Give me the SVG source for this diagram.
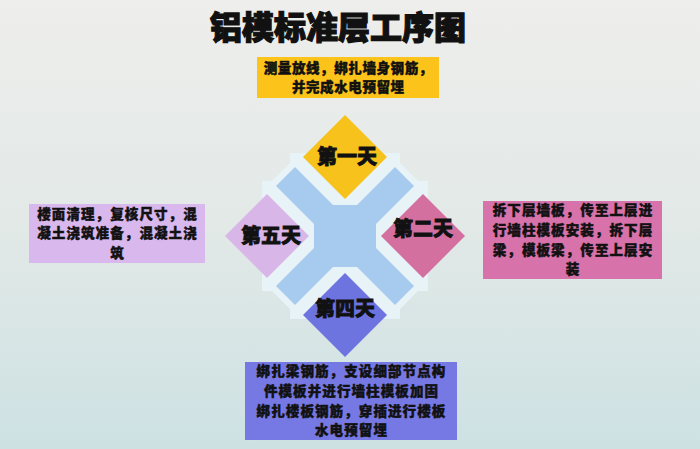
<svg xmlns="http://www.w3.org/2000/svg" width="700" height="449" viewBox="0 0 700 449">
  <defs>
    <linearGradient id="bg" x1="0" y1="0" x2="0" y2="1">
      <stop offset="0" stop-color="#eeeeec"/>
      <stop offset="0.5" stop-color="#e2e9e7"/>
      <stop offset="1" stop-color="#cde1e3"/>
    </linearGradient>
  </defs>
  <style>
    .t { font-family: "Noto Sans CJK SC", "Noto Sans CJK JP", sans-serif; font-weight: 900; fill: #111; stroke: #111; text-anchor: middle; }
    .title { font-size: 32px; stroke-width: 1.2px; }
    .day { font-size: 20px; stroke-width: 0.8px; }
    .box { font-size: 13.5px; letter-spacing: 1.1px; stroke-width: 0.45px; }
    .box14 { font-size: 13.5px; letter-spacing: 0.6px; stroke-width: 0.45px; }
  </style>
  <rect x="0" y="0" width="700" height="449" fill="url(#bg)"/>

  <g id="title">
    <text class="t title" x="338" y="39">铝模标准层工序图</text>
  </g>

  <g id="cross">
    <polygon fill="#e8f3f7" points="290,153 400,153 400,163 418,181 428,181 428,291 418,291 400,309 400,319 290,319 290,309 272,291 262,291 262,181 272,181 290,163"/>
    <polygon fill="#a7cbef" points="276,186 295,167 333,205 357,205 395,167 414,186 376,224 376,248 414,286 395,305 357,267 333,267 295,305 276,286 314,248 314,224"/>
  </g>

  <g id="day1">
    <polygon fill="#f7c21b" points="345,115 387,157 345,199 303,157"/>
    <text class="t day" x="347" y="164">第一天</text>
  </g>
  <g id="day2">
    <polygon fill="#d4709f" points="423,194 465,236 423,278 381,236"/>
    <text class="t day" x="423" y="236">第二天</text>
  </g>
  <g id="day5">
    <polygon fill="#d8b6e8" points="267,194 309,236 267,278 225,236"/>
    <text class="t day" x="271" y="243">第五天</text>
  </g>
  <g id="day4">
    <polygon fill="#6d74e0" points="345,273 387,315 345,357 303,315"/>
    <text class="t day" x="345" y="316">第四天</text>
  </g>

  <g id="note1">
    <rect x="257" y="57" width="182" height="41" fill="#fcc31a"/>
    <text class="t box14"><tspan x="348.3" y="72.5">测量放线，绑扎墙身钢筋，</tspan><tspan x="348.3" y="92">并完成水电预留埋</tspan></text>
  </g>
  <g id="note5">
    <rect x="29" y="204" width="176" height="59" fill="#d9b8ee"/>
    <text class="t box"><tspan x="117.5" y="218.5">楼面清理，复核尺寸，混</tspan><tspan x="117.5" y="238">凝土浇筑准备，混凝土浇</tspan><tspan x="117.5" y="258">筑</tspan></text>
  </g>
  <g id="note2">
    <rect x="483" y="201" width="179" height="78" fill="#d872aa"/>
    <text class="t box"><tspan x="573" y="215">拆下层墙板，传至上层进</tspan><tspan x="573" y="235">行墙柱模板安装，拆下层</tspan><tspan x="573" y="254.5">梁，模板梁，传至上层安</tspan><tspan x="573" y="274">装</tspan></text>
  </g>
  <g id="note4">
    <rect x="245" y="362" width="212" height="78" fill="#7679e4"/>
    <text class="t box"><tspan x="351.5" y="376">绑扎梁钢筋，支设细部节点构</tspan><tspan x="351.5" y="396">件模板并进行墙柱模板加固</tspan><tspan x="351.5" y="415.5">绑扎楼板钢筋，穿插进行楼板</tspan><tspan x="351.5" y="435">水电预留埋</tspan></text>
  </g>
</svg>
